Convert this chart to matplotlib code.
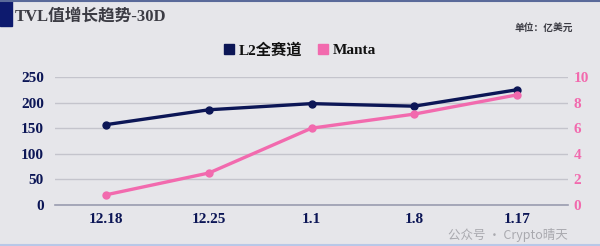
import matplotlib.pyplot as plt
import numpy as np

DATES = ['12.18', '12.25', '1.1', '1.8', '1.17']
L2_TVL = [157, 186, 198, 193, 225]
MANTA_TVL = [0.8, 2.5, 6.0, 7.1, 8.6]

NAVY = '#0c1656'
PINK = '#f26aae'
BG = '#e6e6ea'

plt.rcParams['font.family'] = ['Liberation Serif', 'Noto Sans CJK SC', 'DejaVu Sans']


def create_chart():
    fig = plt.figure(figsize=(6, 2.46), dpi=100, facecolor=BG)
    ax = fig.add_axes([55 / 600, 1 - 205 / 246, 513 / 600, 128 / 246], facecolor=BG)
    ax2 = ax.twinx()

    x = np.arange(len(DATES))
    ax.plot(x, L2_TVL, color=NAVY, lw=2.4, marker='o', ms=5, zorder=3)
    ax2.plot(x, MANTA_TVL, color=PINK, lw=2.4, marker='o', ms=5, zorder=3)

    ax.set_xlim(-0.5, len(DATES) - 0.5)
    ax.set_ylim(0, 250)
    ax2.set_ylim(0, 10)
    ax.set_yticks(range(0, 251, 50))
    ax2.set_yticks(range(0, 11, 2))
    ax.set_xticks(x)
    ax.set_xticklabels(DATES)

    ax.grid(True, axis='y', color='#c4c4cc', lw=1)
    ax.set_axisbelow(True)
    for a in (ax, ax2):
        for s in a.spines.values():
            s.set_visible(False)
        a.tick_params(length=0)
    ax.spines['bottom'].set_visible(True)
    ax.spines['bottom'].set_color('#9a9cb0')
    ax.spines['bottom'].set_linewidth(1.2)

    ax.tick_params(axis='y', colors=NAVY, labelsize=11, pad=8)
    ax.tick_params(axis='x', colors=NAVY, labelsize=11, pad=6)
    ax2.tick_params(axis='y', colors=PINK, labelsize=11, pad=4)
    for lbl in ax.get_xticklabels() + ax.get_yticklabels() + ax2.get_yticklabels():
        lbl.set_fontweight('bold')

    # header decorations
    fig.patches.append(plt.Rectangle((0, 1 - 26 / 246), 12 / 600, 26 / 246,
                                     transform=fig.transFigure, color='#0d1a6e'))
    fig.add_artist(plt.Line2D([0, 1], [1 - 1 / 246] * 2, transform=fig.transFigure,
                              color='#5a6a9a', lw=1.5))
    fig.add_artist(plt.Line2D([0, 1], [1 / 246] * 2, transform=fig.transFigure,
                              color='#b8c8e8', lw=1.5))

    fig.text(15 / 600, 1 - 17 / 246, 'TVL值增长趋势-30D', fontsize=12, fontweight='bold',
             color='#3c3c44', va='center', ha='left')
    fig.text(573 / 600, 1 - 28 / 246, '单位：亿美元', fontsize=7, fontweight='bold',
             color='#3c3c44', va='center', ha='right')

    # legend
    handles = [plt.Rectangle((0, 0), 1, 1, color=NAVY), plt.Rectangle((0, 0), 1, 1, color=PINK)]
    leg = fig.legend(handles, ['L2全赛道', 'Manta'], loc='center', bbox_to_anchor=(0.5, 1 - 50 / 246),
                     ncol=2, frameon=False, handlelength=0.7, handleheight=0.7, handletextpad=0.3,
                     columnspacing=1.0, prop={'size': 11, 'weight': 'bold'})
    for t in leg.get_texts():
        t.set_color('#111111')

    # watermark, pushed a little below the tick labels
    fig.text(568 / 600, 1 - 235 / 246, '公众号 · Crypto晴天', fontsize=9, color='#9a9aa0',
             alpha=0.8, va='center', ha='right', family=['Noto Sans CJK SC', 'DejaVu Sans'])

    fig.savefig('out.png', dpi=100, facecolor=BG)


if __name__ == '__main__':
    create_chart()
